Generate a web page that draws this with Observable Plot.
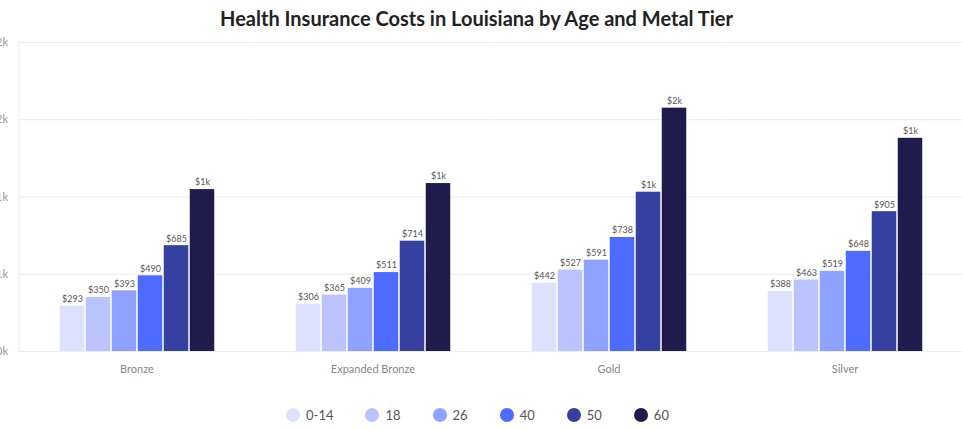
<!DOCTYPE html>
<html>
<head>
<meta charset="utf-8">
<script src="https://cdn.jsdelivr.net/npm/d3@7"></script>
<script src="https://cdn.jsdelivr.net/npm/@observablehq/plot@0.6"></script>
<style>
  body { margin: 0; background: #fff; font-family: Lato, "Open Sans", sans-serif; }
  #wrap { width: 963px; }
  #title { height: 35px; line-height: 36px; text-align: center; font-weight: 700; font-size: 20px; color: #222; margin-left: -10px; }
  #legend { display: flex; justify-content: center; align-items: center; gap: 0; height: 30px; margin-left: -8px; }
  .item { display: flex; align-items: center; font-size: 13px; color: #555; margin: 0 16px; }
  .dot { width: 14px; height: 14px; border-radius: 50%; margin-right: 6px; }
</style>
</head>
<body>
<div id="wrap">
  <div id="title">Health Insurance Costs in Louisiana by Age and Metal Tier</div>
  <div id="chart"></div>
  <div id="legend"></div>
</div>
<script>
const tiers = ["Bronze", "Expanded Bronze", "Gold", "Silver"];
const ages = ["0-14", "18", "26", "40", "50", "60"];
const bronze = [293, 350, 393, 490, 685, 1048];
const expandedBronze = [306, 365, 409, 511, 714, 1087];
const gold = [442, 527, 591, 738, 1031, 1575];
const silver = [388, 463, 519, 648, 905, 1380];
const yTicks = [0, 500, 1000, 1500, 2000];
const colors = ["#dde1ff", "#b9c4ff", "#8fa2ff", "#4e6bff", "#3540a0", "#1f1b4c"];

const seriesByTier = [bronze, expandedBronze, gold, silver];
const data = [];
tiers.forEach((t, i) => ages.forEach((a, j) => data.push({tier: t, age: a, value: seriesByTier[i][j]})));

const money = v => v >= 1000 ? "$" + Math.round(v / 1000) + "k" : "$" + v;
const axisFmt = v => "$" + Math.round(v / 1000) + "k";

const W = 963, ML = 19, MR = 0, PI = 0.326, PO = 0.163;
const step = (W - ML - MR) / tiers.length;
const ext = PO * step; // half the gap between facets, so grid lines join up

const chart = Plot.plot({
  width: W,
  height: 365,
  marginTop: 7,
  marginBottom: 49,
  marginLeft: ML,
  marginRight: MR,
  style: {fontFamily: "Lato, 'Open Sans', sans-serif", background: "#fff"},
  fx: {domain: tiers, paddingInner: PI, paddingOuter: PO, label: null},
  x: {domain: ages, padding: 0, axis: null},
  y: {domain: [0, 2000], axis: null},
  color: {domain: ages, range: colors},
  marks: [
    Plot.ruleY(yTicks, {stroke: "#ececec", strokeWidth: 1, insetLeft: -ext, insetRight: -ext}),
    Plot.frame({anchor: "left", facetAnchor: "left", dx: -ext, stroke: "#ececec"}),
    Plot.axisY(yTicks, {tickSize: 0, tickPadding: 11 + ext, tickFormat: axisFmt, fontSize: 11, fill: "#999", label: null}),
    Plot.axisFx({anchor: "bottom", tickSize: 0, tickPadding: 14, fontSize: 11, fill: "#888", label: null}),
    Plot.barY(data, {fx: "tier", x: "age", y: "value", fill: "age", insetLeft: 0.75, insetRight: 0.75}),
    Plot.text(data, {fx: "tier", x: "age", y: "value", text: d => money(d.value), dy: -7, fontSize: 9, fill: "#555"})
  ]
});
document.getElementById("chart").appendChild(chart);

const legend = document.getElementById("legend");
ages.forEach((a, i) => {
  const item = document.createElement("div");
  item.className = "item";
  item.innerHTML = `<span class="dot" style="background:${colors[i]}"></span><span>${a}</span>`;
  legend.appendChild(item);
});
</script>
</body>
</html>
